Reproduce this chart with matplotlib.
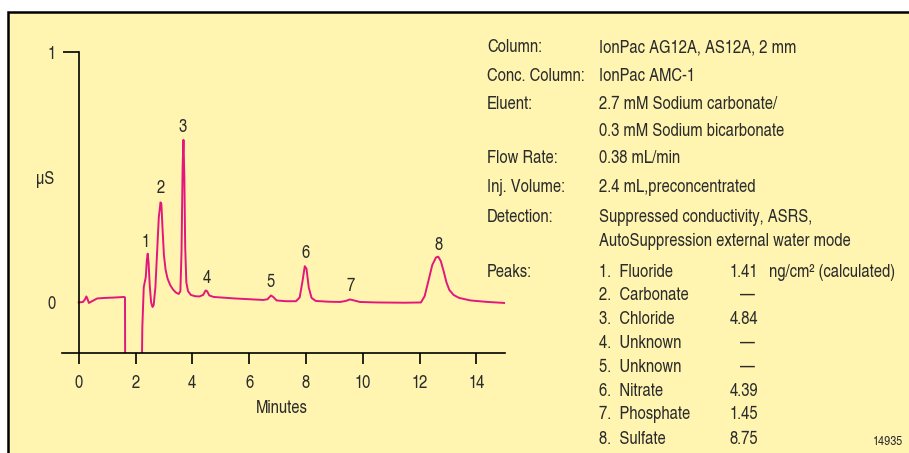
import matplotlib
matplotlib.use('Agg')
import matplotlib.pyplot as plt
from matplotlib.patches import Rectangle

plt.rcParams['font.family'] = ['TeX Gyre Heros Cn', 'DejaVu Sans']

# chromatogram trace (minutes, uS)
minutes = [0.00, 0.15, 0.22, 0.27, 0.31, 0.36, 0.42, 0.55, 0.65, 0.90, 1.30, 1.60, 1.63,
           1.64, 2.20, 2.24, 2.29, 2.32, 2.36, 2.40, 2.43, 2.46, 2.50, 2.55, 2.60, 2.64,
           2.70, 2.76, 2.82, 2.88, 2.91, 2.95, 3.00, 3.06, 3.13, 3.22, 3.32, 3.42, 3.52,
           3.58, 3.62, 3.66, 3.69, 3.72, 3.75, 3.79, 3.85, 3.95, 4.10, 4.25, 4.38, 4.47,
           4.52, 4.60, 4.75, 5.00, 5.50, 6.00, 6.50, 6.65, 6.77, 6.85, 6.97, 7.30, 7.65,
           7.78, 7.88, 7.96, 8.02, 8.10, 8.20, 8.35, 8.80, 9.20, 9.40, 9.55, 9.70, 9.90,
           10.50, 11.50, 12.05, 12.18, 12.30, 12.45, 12.58, 12.66, 12.75, 12.85, 12.95,
           13.05, 13.20, 13.40, 13.80, 14.40, 15.00]
signal = [0.000, 0.002, 0.012, 0.024, 0.014, -0.002, 0.002, 0.010, 0.016, 0.018, 0.020, 0.022, 0.020,
          -0.5, -0.5, -0.10, 0.06, 0.078, 0.10, 0.17, 0.195, 0.16, 0.07, 0.00, -0.018, -0.01,
          0.06, 0.20, 0.34, 0.400, 0.395, 0.30, 0.19, 0.13, 0.095, 0.070, 0.052, 0.040, 0.034,
          0.045, 0.20, 0.55, 0.650, 0.50, 0.22, 0.08, 0.045, 0.030, 0.025, 0.024, 0.030, 0.048,
          0.045, 0.028, 0.022, 0.020, 0.016, 0.013, 0.010, 0.013, 0.028, 0.022, 0.008, 0.005, 0.005,
          0.020, 0.085, 0.145, 0.135, 0.060, 0.018, 0.006, 0.003, 0.002, 0.006, 0.012, 0.008, 0.002,
          0.000, -0.001, 0.000, 0.025, 0.080, 0.150, 0.180, 0.183, 0.165, 0.125, 0.080,
          0.050, 0.030, 0.018, 0.008, 0.002, -0.002]

peak_ids = ['1', '2', '3', '4', '5', '6', '7', '8']
peak_label_t = [2.34, 2.90, 3.66, 4.51, 6.75, 8.00, 9.59, 12.66]
peak_label_y = [0.223, 0.439, 0.681, 0.079, 0.062, 0.179, 0.047, 0.209]

cond_labels = ['Column:', 'Conc. Column:', 'Eluent:', '', 'Flow Rate:', 'Inj. Volume:',
               'Detection:', '', 'Peaks:']
cond_values = ['IonPac AG12A, AS12A, 2 mm', 'IonPac AMC-1', '2.7 mM Sodium carbonate/',
               '0.3 mM Sodium bicarbonate', '0.38 mL/min', '2.4 mL,preconcentrated',
               'Suppressed conductivity, ASRS,', 'AutoSuppression external water mode']
cond_rows = [52, 81, 109, 135.5, 163, 192, 222.5, 246, 276.7]

peak_names = ['1.  Fluoride', '2.  Carbonate', '3.  Chloride', '4.  Unknown',
              '5.  Unknown', '6.  Nitrate', '7.  Phosphate', '8.  Sulfate']
peak_amounts = ['1.41', None, '4.84', None, None, '4.39', '1.45', '8.75']
peak_rows = [276.7, 300, 324.3, 347.7, 372, 396, 419.3, 443.7]

W, H = 909, 453
bg = '#FFF5B1'
pink = '#E3177B'
ink = '#2B2B2B'
fs = 13

fig = plt.figure(figsize=(W / 100, H / 100), dpi=100)
fig.patch.set_facecolor('white')
frame = Rectangle((8 / W, -0.2), 1.5, 1.2 - 11.5 / H, transform=fig.transFigure,
                  facecolor=bg, edgecolor='black', lw=1.8, zorder=-5)
fig.add_artist(frame)

ax = fig.add_axes([62 / W, (H - 352.5) / H, 443 / W, 300.2 / H])
ax.patch.set_visible(False)
ax.plot(minutes, signal, color=pink, lw=1.4)
ax.set_xlim(-0.588, 15.01)
ax.set_ylim(-0.2, 1.0)

for s in ['top', 'right']:
    ax.spines[s].set_visible(False)
ax.spines['left'].set_position(('data', 0))
ax.spines['left'].set_linewidth(1.2)
ax.spines['bottom'].set_linewidth(1.2)

ax.set_xticks(range(0, 15, 2))
ax.set_yticks([0, 1])
ax.set_yticklabels(['0', '1'])
ax.tick_params(axis='x', direction='out', length=8, width=1.2, pad=8,
               labelsize=fs, labelcolor=ink)
ax.tick_params(axis='y', direction='out', length=11.5, width=1.2, pad=5,
               labelsize=fs, labelcolor=ink)
ax.yaxis.get_major_ticks()[0].tick1line.set_visible(False)

for pid, t, y in zip(peak_ids, peak_label_t, peak_label_y):
    ax.text(t, y, pid, ha='center', va='baseline', fontsize=fs, color=ink)

fig.text(281.7 / W, 1 - 413 / H, 'Minutes', ha='center', va='baseline', fontsize=fs, color=ink)
fig.text(45.5 / W, 1 - 184 / H, 'µS', ha='center', va='baseline', fontsize=fs, color=ink)

# conditions block
for lab, row in zip(cond_labels, cond_rows):
    if lab:
        fig.text(487 / W, 1 - row / H, lab, ha='left', va='baseline', fontsize=fs, color=ink)
for val, row in zip(cond_values, cond_rows):
    fig.text(599 / W, 1 - row / H, val, ha='left', va='baseline', fontsize=fs, color=ink)

for name, amt, row in zip(peak_names, peak_amounts, peak_rows):
    fig.text(599 / W, 1 - row / H, name, ha='left', va='baseline', fontsize=fs, color=ink)
    if amt is None:
        fig.text(747 / W, 1 - row / H, '\u2014', ha='center', va='baseline', fontsize=fs, color=ink)
    else:
        fig.text(730 / W, 1 - row / H, amt, ha='left', va='baseline', fontsize=fs, color=ink)
fig.text(769 / W, 1 - peak_rows[0] / H, 'ng/cm\u00b2 (calculated)', ha='left', va='baseline',
         fontsize=fs, color=ink)

fig.text(903 / W, 1 - 445 / H, '14935', ha='right', va='baseline', fontsize=9.5, color=ink)

fig.savefig('out.png', dpi=100, facecolor=fig.get_facecolor())
